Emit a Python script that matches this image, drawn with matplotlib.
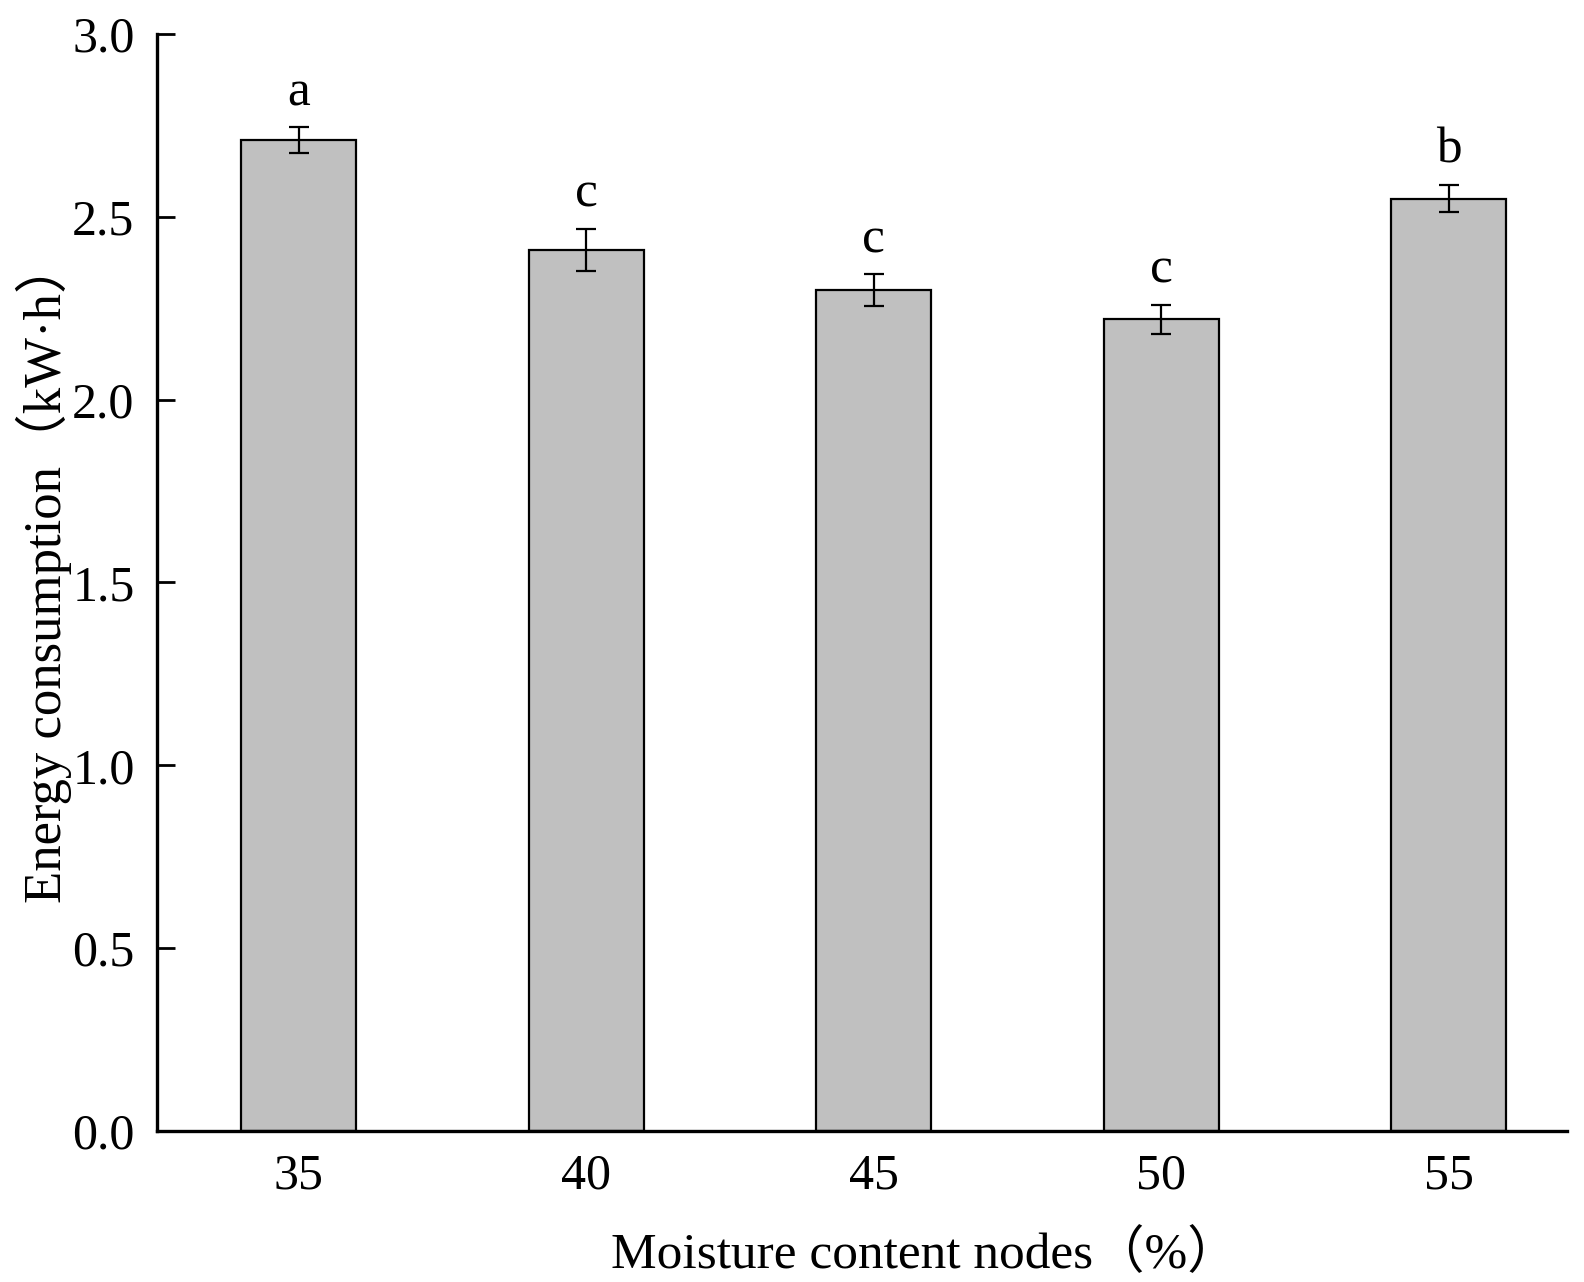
import matplotlib
matplotlib.use("Agg")
import matplotlib.pyplot as plt
import numpy as np

# data
nodes = ["35", "40", "45", "50", "55"]
energy = [2.71, 2.41, 2.30, 2.22, 2.55]
err = [0.035, 0.058, 0.043, 0.040, 0.038]
letters = ["a", "c", "c", "c", "b"]

fonts = ["Liberation Serif", "Noto Sans CJK SC"]
plt.rcParams["font.family"] = fonts

fig = plt.figure(figsize=(15.84, 12.82), dpi=100)
ax = fig.add_axes([0.099, 0.1178, 0.890, 0.8557])

x = np.arange(len(nodes))
ax.bar(x, energy, width=0.40, color="#c0c0c0", edgecolor="black", linewidth=1.6, zorder=2)
ax.errorbar(x, energy, yerr=err, fmt="none", ecolor="black", elinewidth=1.6,
            capsize=7.5, capthick=1.6, zorder=3)

# significance letters
for xi, yi, e, lab in zip(x, energy, err, letters):
    ax.annotate(lab, (xi, yi + e), xytext=(0, 8), textcoords="offset points",
                ha="center", va="bottom", fontsize=37)

ax.set_xlim(-0.493, 4.41)
ax.set_ylim(0, 3.0)
ax.set_xticks(x)
ax.set_xticklabels(nodes)
ax.set_yticks(np.arange(0, 3.01, 0.5))
ax.set_yticklabels([f"{v:.1f}" for v in np.arange(0, 3.01, 0.5)])

ax.tick_params(axis="y", direction="in", length=13, width=2, labelsize=36, pad=16)
ax.tick_params(axis="x", length=0, labelsize=36, pad=16)

for s in ["top", "right"]:
    ax.spines[s].set_visible(False)
for s in ["left", "bottom"]:
    ax.spines[s].set_linewidth(2.4)

ax.set_xlabel("Moisture content nodes（%）", fontsize=37)
ax.set_ylabel("Energy consumption（kW·h）", fontsize=38)
ax.xaxis.set_label_coords(0.545, -0.090)
ax.yaxis.set_label_coords(-0.060, 0.51)

fig.savefig("out.png", dpi=100)
